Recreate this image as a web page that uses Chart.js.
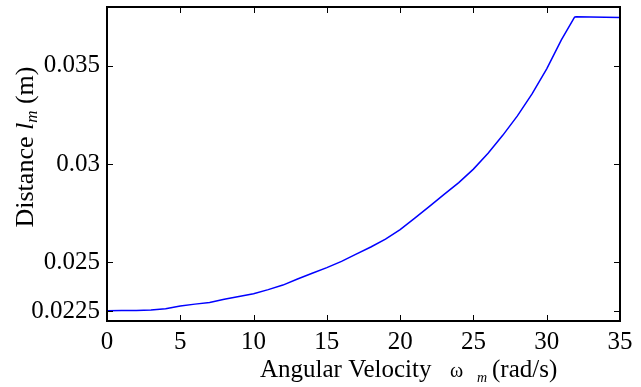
<!DOCTYPE html>
<html>
<head>
<meta charset="utf-8">
<script src="https://cdn.jsdelivr.net/npm/chart.js@4/dist/chart.umd.min.js"></script>
<style>
  body { margin: 0; background: #fff; }
</style>
</head>
<body>
<canvas id="myChart" width="641" height="387"></canvas>
<script>
// angular velocity (rad/s) and distance l_m (m)
var velocity = [0, 1, 2, 3, 4, 5, 6, 7, 8, 9, 10, 11, 12, 13, 14, 15, 16, 17, 18,
    19, 20, 21, 22, 23, 24, 25, 26, 27, 28, 29, 30, 31, 31.9, 32, 35];
var distance = [0.02252, 0.02253, 0.02254, 0.02256, 0.02262, 0.02276, 0.02286,
    0.02294, 0.02311, 0.02325, 0.02339, 0.02360, 0.02383, 0.02414, 0.02443,
    0.02472, 0.02504, 0.02541, 0.02577, 0.02617, 0.02666, 0.02724, 0.02784,
    0.02845, 0.02905, 0.02974, 0.03055, 0.03146, 0.03245, 0.03357, 0.03485,
    0.03632, 0.03748, 0.03750, 0.03746];

var xTicks = [0, 5, 10, 15, 20, 25, 30, 35];
var yTicks = [0.0225, 0.025, 0.03, 0.035];
var yTickLabels = ['0.0225', '0.025', '0.03', '0.035'];

var serif = '"Liberation Serif", "Times New Roman", serif';

// frame, inward ticks on all four sides, and the axis titles with subscripts
var framePlugin = {
    id: 'frame',
    afterDraw: function(chart) {
        var ctx = chart.ctx;
        var a = chart.chartArea;
        var xs = chart.scales.x, ys = chart.scales.y;
        ctx.save();
        ctx.strokeStyle = '#000';
        ctx.lineWidth = 1;
        ctx.beginPath();
        xTicks.forEach(function(v) {
            var px = Math.round(xs.getPixelForValue(v)) + 0.5;
            ctx.moveTo(px, a.bottom); ctx.lineTo(px, a.bottom - 6);
            ctx.moveTo(px, a.top); ctx.lineTo(px, a.top + 6);
        });
        yTicks.forEach(function(v) {
            var py = Math.round(ys.getPixelForValue(v)) + 0.5;
            ctx.moveTo(a.left, py); ctx.lineTo(a.left + 6, py);
            ctx.moveTo(a.right, py); ctx.lineTo(a.right - 6, py);
        });
        ctx.stroke();
        ctx.lineWidth = 2;
        ctx.strokeRect(a.left, a.top, a.right - a.left, a.bottom - a.top);

        ctx.fillStyle = '#000';
        ctx.textBaseline = 'alphabetic';
        ctx.textAlign = 'left';

        // x title
        var x = 260, y = 377;
        ctx.font = '25px ' + serif;
        ctx.fillText('Angular Velocity', x, y);
        x = 450;
        ctx.font = '20px ' + serif;
        ctx.fillText('\u03c9', x, y);
        x = 477;
        ctx.font = 'italic 14px ' + serif;
        ctx.fillText('m', x, y + 5);
        x = 492;
        ctx.font = '25px ' + serif;
        ctx.fillText('(rad/s)', x, y);

        // y title, rotated
        ctx.translate(33, 147);
        ctx.rotate(-Math.PI / 2);
        var parts = [
            {t: 'Distance ', f: '26px ' + serif, dy: 0},
            {t: 'l', f: 'italic 26px ' + serif, dy: 0},
            {t: 'm', f: 'italic 17px ' + serif, dy: 4},
            {t: ' (m)', f: '26px ' + serif, dy: 0}
        ];
        var total = 0;
        parts.forEach(function(p) { ctx.font = p.f; total += ctx.measureText(p.t).width; });
        var cx = -total / 2;
        parts.forEach(function(p) {
            ctx.font = p.f;
            ctx.fillText(p.t, cx, p.dy);
            cx += ctx.measureText(p.t).width;
        });
        ctx.restore();
    }
};

function noPad(s) {
    s.paddingTop = 0; s.paddingBottom = 0;
    s.paddingLeft = 0; s.paddingRight = 0;
}

var ctx = document.getElementById('myChart').getContext('2d');

var chart = new Chart(ctx, {
    type: 'line',
    data: {
        datasets: [{
            data: velocity.map(function(v, i) { return {x: v, y: distance[i]}; }),
            borderColor: '#0000ff',
            borderWidth: 1.5,
            pointRadius: 0,
            tension: 0,
            fill: false
        }]
    },
    options: {
        responsive: false,
        animation: false,
        events: [],
        layout: {padding: {left: 0, right: 21, top: 7, bottom: 0}},
        plugins: {
            legend: {display: false},
            tooltip: {enabled: false}
        },
        scales: {
            x: {
                type: 'linear',
                min: 0,
                max: 35,
                afterFit: function(s) { s.height = 66; noPad(s); },
                afterBuildTicks: function(s) {
                    s.ticks = xTicks.map(function(v) { return {value: v}; });
                },
                grid: {display: false, drawTicks: false},
                border: {display: false},
                ticks: {
                    padding: 6,
                    color: '#000',
                    font: {family: serif, size: 25},
                    maxRotation: 0,
                    callback: function(v) { return String(v); }
                }
            },
            y: {
                type: 'linear',
                min: 0.022,
                max: 0.038,
                afterFit: function(s) { s.width = 107; noPad(s); },
                afterBuildTicks: function(s) {
                    s.ticks = yTicks.map(function(v) { return {value: v}; });
                },
                grid: {display: false, drawTicks: false},
                border: {display: false},
                ticks: {
                    padding: 7,
                    color: '#000',
                    font: {family: serif, size: 25},
                    callback: function(v) {
                        var i = yTicks.indexOf(v);
                        return i >= 0 ? yTickLabels[i] : '';
                    }
                }
            }
        }
    },
    plugins: [framePlugin]
});
</script>
</body>
</html>
